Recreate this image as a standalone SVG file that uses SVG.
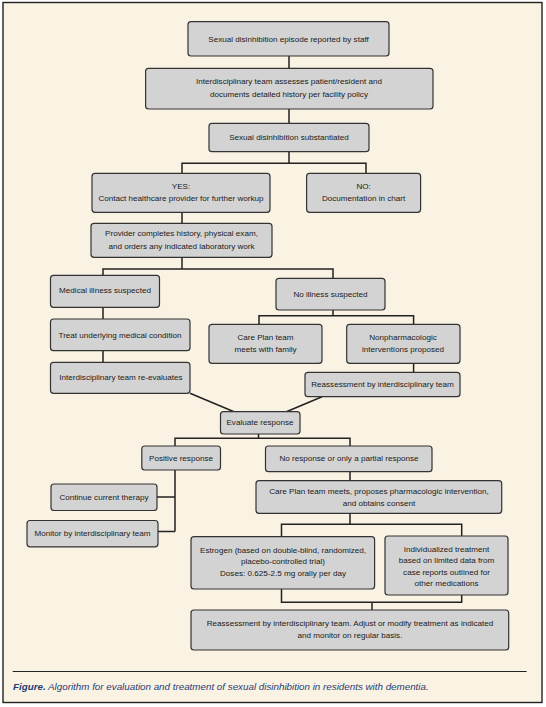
<svg xmlns="http://www.w3.org/2000/svg" width="546" height="707" viewBox="0 0 546 707">
<style>
.bg{fill:#FAF3E3;stroke:#222;stroke-width:1.4}
.box{fill:#D3D3D3;stroke:#333;stroke-width:1.2}
.t{font-family:"Liberation Sans",Arial,sans-serif;font-size:8.1px;fill:#1a1a1a;text-anchor:middle;dominant-baseline:central}
.c{fill:none;stroke:#222;stroke-width:1.5}
.cap{font-family:"Liberation Sans",Arial,sans-serif;font-size:9.8px;fill:#1F3C73;font-style:italic}
</style>
<rect class="bg" x="3" y="2.5" width="539" height="700"/>
<g id="connectors">
<path class="c" d="M289 56V68.3M289 109V123.3M289 151.7V163.3M182 173.3V163.3H366V173.3"/>
<path class="c" d="M182 212.3V223.3M182 257.3V269M103 275.3V269H333V278.3"/>
<path class="c" d="M103 307.3V319M333 310V315.7M259 324.3V315.7H413.6V324.3"/>
<path class="c" d="M103 350.7V362.3M413.6 363.3V372.3"/>
<path class="c" d="M190 393.3L234 411.7M322 396.7L286.4 411.7"/>
<path class="c" d="M258.5 434V438.3M175 446V438.3H350V446"/>
<path class="c" d="M175 470V531.5M157 497H175M158 531.5H175"/>
<path class="c" d="M350 471.7V480.7M350 513.3V524.3M281.5 536.7V524.3H461.7V536.5"/>
<path class="c" d="M281.5 589V602.3H461.7V595M372 602.3V610"/>
</g>
<g id="n1"><rect class="box" x="188" y="21.7" width="201" height="34.3" rx="3"/><text class="t" x="288.5" y="39">Sexual disinhibition episode reported by staff</text></g>
<g id="n2"><rect class="box" x="145.6" y="68.3" width="287.4" height="40.7" rx="3"/><text class="t" x="289" y="81.7">Interdisciplinary team assesses patient/resident and</text><text class="t" x="289" y="94">documents detailed history per facility policy</text></g>
<g id="n3"><rect class="box" x="209" y="123.3" width="160" height="28.4" rx="3"/><text class="t" x="289" y="137.5">Sexual disinhibition substantiated</text></g>
<g id="n4"><rect class="box" x="92" y="173.3" width="178" height="39" rx="3"/><text class="t" x="181" y="186">YES:</text><text class="t" x="181" y="198.3">Contact healthcare provider for further workup</text></g>
<g id="n5"><rect class="box" x="306.6" y="173.3" width="114" height="39" rx="3"/><text class="t" x="363.6" y="186">NO:</text><text class="t" x="363.6" y="198.3">Documentation in chart</text></g>
<g id="n6"><rect class="box" x="91" y="223.3" width="181" height="34" rx="3"/><text class="t" x="181.5" y="233.3">Provider completes history, physical exam,</text><text class="t" x="181.5" y="246">and orders any indicated laboratory work</text></g>
<g id="n7"><rect class="box" x="50.5" y="275.3" width="109" height="32" rx="3"/><text class="t" x="105" y="290.7">Medical illness suspected</text></g>
<g id="n8"><rect class="box" x="276" y="278.3" width="109" height="31.7" rx="3"/><text class="t" x="330.5" y="294">No illness suspected</text></g>
<g id="n9"><rect class="box" x="50.5" y="319" width="139.5" height="31.7" rx="3"/><text class="t" x="120" y="335">Treat underlying medical condition</text></g>
<g id="n10"><rect class="box" x="209" y="324.3" width="113" height="39" rx="3"/><text class="t" x="265.5" y="337.3">Care Plan team</text><text class="t" x="265.5" y="349">meets with family</text></g>
<g id="n11"><rect class="box" x="346.7" y="324.3" width="113.3" height="39" rx="3"/><text class="t" x="403" y="337.3">Nonpharmacologic</text><text class="t" x="403" y="349">interventions proposed</text></g>
<g id="n12"><rect class="box" x="50.5" y="362.3" width="139.5" height="31" rx="3"/><text class="t" x="121" y="377.7">Interdisciplinary team re-evaluates</text></g>
<g id="n13"><rect class="box" x="305" y="372.3" width="155" height="24.4" rx="3"/><text class="t" x="382.5" y="384.3">Reassessment by interdisciplinary team</text></g>
<g id="n14"><rect class="box" x="220.5" y="411.7" width="79.5" height="22.3" rx="3"/><text class="t" x="260" y="422.7">Evaluate response</text></g>
<g id="n15"><rect class="box" x="141.8" y="446" width="78.7" height="24" rx="3"/><text class="t" x="181" y="458.3">Positive response</text></g>
<g id="n16"><rect class="box" x="265.5" y="446" width="166.5" height="25.7" rx="3"/><text class="t" x="349" y="458.3">No response or only a partial response</text></g>
<g id="n17"><rect class="box" x="51" y="484" width="106" height="26.5" rx="3"/><text class="t" x="104" y="497">Continue current therapy</text></g>
<g id="n18"><rect class="box" x="27" y="520.5" width="131" height="26.3" rx="3"/><text class="t" x="92.5" y="533.3">Monitor by interdisciplinary team</text></g>
<g id="n19"><rect class="box" x="256" y="480.7" width="245.7" height="32.6" rx="3"/><text class="t" x="379" y="491.7">Care Plan team meets, proposes pharmacologic intervention,</text><text class="t" x="379" y="503.3">and obtains consent</text></g>
<g id="n20"><rect class="box" x="191" y="536.7" width="183.6" height="52.3" rx="3"/><text class="t" x="283" y="550">Estrogen (based on double-blind, randomized,</text><text class="t" x="283" y="561.5">placebo-controlled trial)</text><text class="t" x="283" y="573">Doses: 0.625-2.5 mg orally per day</text></g>
<g id="n21"><rect class="box" x="385" y="536" width="123" height="59" rx="3"/><text class="t" x="446.5" y="549.3">Individualized treatment</text><text class="t" x="446.5" y="560.7">based on limited data from</text><text class="t" x="446.5" y="572">case reports outlined for</text><text class="t" x="446.5" y="583">other medications</text></g>
<g id="n22"><rect class="box" x="191" y="610" width="317.7" height="40" rx="3"/><text class="t" x="350" y="623.3">Reassessment by interdisciplinary team. Adjust or modify treatment as indicated</text><text class="t" x="350" y="635.7">and monitor on regular basis.</text></g>
<line x1="12.7" y1="671.5" x2="526.7" y2="671.5" stroke="#222" stroke-width="1.2"/>
<text class="cap" x="13" y="690"><tspan font-weight="bold">Figure.</tspan> Algorithm for evaluation and treatment of sexual disinhibition in residents with dementia.</text>
</svg>
